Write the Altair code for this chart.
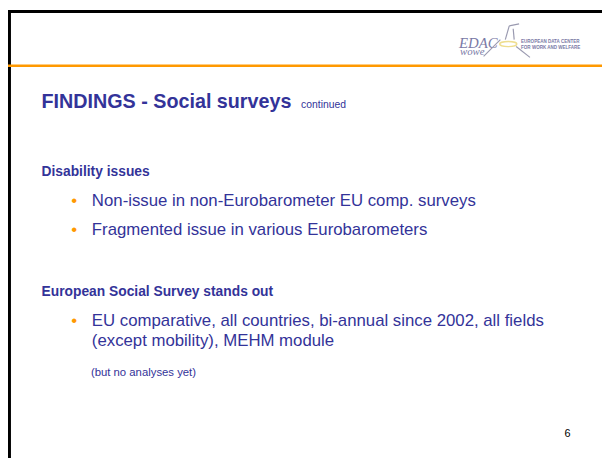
import altair as alt
import pandas as pd

M = 8  # page margin: reference pixel coordinates are shifted by this
BLUE = "#333399"
ORANGE = "#FF9900"
LOGO = "#7a7aa6"
FONT = "Liberation Sans"
SERIF = "Liberation Serif"

title = "FINDINGS - Social surveys"
title_note = "continued"
heading_1 = "Disability issues"
bullets_1 = [
    "Non-issue in non-Eurobarometer EU comp. surveys",
    "Fragmented issue in various Eurobarometers",
]
heading_2 = "European Social Survey stands out"
bullets_2 = [
    "EU comparative, all countries, bi-annual since 2002, all fields",
    "(except mobility), MEHM module",
]
note_2 = "(but no analyses yet)"
page_number = "6"
logo_main = "EDAC"
logo_sub = "wowe"
logo_lines = ["EUROPEAN DATA CENTER", "FOR WORK AND WELFARE"]

one = pd.DataFrame({"k": [0]})


def text_layer(s, x, y, size, weight="normal", color=BLUE, style="normal",
               font=FONT, align="left"):
    return alt.Chart(pd.DataFrame({"t": [s]})).mark_text(
        align=align, baseline="alphabetic", fontSize=size, fontWeight=weight,
        fontStyle=style, font=font, color=color
    ).encode(x=alt.value(x - M), y=alt.value(y - M), text="t:N")


def rule(x1, y1, x2, y2, color, width):
    return alt.Chart(one).mark_rule(color=color, strokeWidth=width,
                                    strokeCap="butt").encode(
        x=alt.value(x1 - M), y=alt.value(y1 - M),
        x2=alt.value(x2 - M), y2=alt.value(y2 - M))


layers = []
# frame
layers.append(rule(3, 8.5, 610, 8.5, "#000000", 3))
layers.append(rule(9.5, 7, 9.5, 461, "#000000", 3))
layers.append(rule(6, 63.5, 610, 63.5, ORANGE, 2.5))

# logo
layers.append(text_layer(logo_main, 465, 45, 15, style="italic", font=SERIF, color=LOGO))
layers.append(text_layer(logo_sub, 466, 53, 11, style="italic", font=SERIF, color=LOGO))
layers.append(text_layer(logo_lines[0], 528, 40, 4.6, weight="bold", color=LOGO))
layers.append(text_layer(logo_lines[1], 528, 46, 4.6, weight="bold", color=LOGO))
layers.append(rule(490, 54, 507, 37, "#9a9ab0", 1.2))
layers.append(rule(512, 37, 516, 23, "#9a9ab0", 1.2))
layers.append(rule(516, 23, 526, 21, "#9a9ab0", 1.2))
layers.append(rule(520, 26, 521, 37, "#9a9ab0", 1.2))
layers.append(rule(523, 44, 537, 55, "#9a9ab0", 1.2))
layers.append(alt.Chart(one).mark_point(
    shape="M-1,0 A1,0.3 0 1,0 1,0 A1,0.3 0 1,0 -1,0",
    size=300, filled=False, stroke="#e8d060", strokeWidth=1.5
).encode(x=alt.value(515 - M), y=alt.value(41.5 - M)))

# title
layers.append(text_layer(title, 42, 106.5, 20, weight="bold"))
layers.append(text_layer(title_note, 305, 106.5, 10.5))

# section 1
layers.append(text_layer(heading_1, 42, 175, 14, weight="bold"))
for i, s in enumerate(bullets_1):
    yy = 206 + i * 29
    layers.append(text_layer("\u2022", 75, yy, 17, color=ORANGE, align="center"))
    layers.append(text_layer(s, 93, yy, 17))

# section 2
layers.append(text_layer(heading_2, 42, 297, 14, weight="bold"))
layers.append(text_layer("\u2022", 75, 327, 17, color=ORANGE, align="center"))
for i, s in enumerate(bullets_2):
    layers.append(text_layer(s, 93, 327 + i * 20.5, 17))
layers.append(text_layer(note_2, 92, 378, 11.5))

# page number
layers.append(text_layer(page_number, 572, 440, 11, color="#000000"))

chart = alt.layer(*layers).properties(
    width=602, height=453, padding=0, autosize="none", background="white"
).configure_view(stroke=None)

chart.save("out.html", embed_options={"renderer": "svg", "actions": False})
